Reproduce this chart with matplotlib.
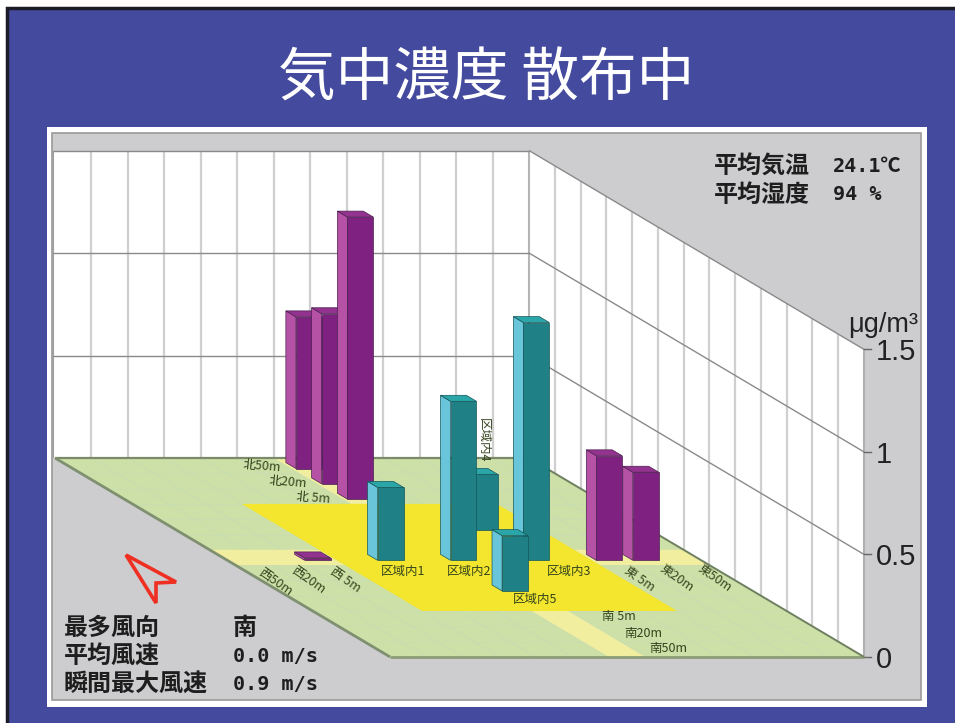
import matplotlib
matplotlib.use("Agg")
import matplotlib.pyplot as plt
from matplotlib.patches import Polygon, Rectangle

plt.rcParams["font.family"] = ["Noto Sans CJK JP", "DejaVu Sans"]

# values, in ug/m3, zero where no bar shows
BAR_NAMES = ["北50m", "北20m", "北 5m", "区域内4", "西50m", "西20m", "西 5m", "区域内1", "区域内2", "区域内3",
             "東 5m", "東20m", "東50m", "区域内5", "南 5m", "南20m", "南50m"]
BAR_VALUES = [0.74, 0.83, 1.376, 0.27, 0, 0, 0.012, 0.356, 0.776, 1.16, 0.51, 0.43, 0, 0.27, 0, 0, 0]
BAR_GROUPS = ["air", "air", "air", "area", "air", "air", "air", "area", "area", "area", "air", "air", "air", "area", "air", "air", "air"]

Z_TICKS = [0, 0.5, 1, 1.5]
Z_TICK_LABELS = ["0", "0.5", "1", "1.5"]
UNIT = "μg/m³"
TITLE = "気中濃度 散布中"
WEATHER_TOP = [("平均気温", "24.1℃"), ("平均湿度", "94 %")]
WEATHER_BOTTOM = [("最多風向", "南"), ("平均風速", "0.0 m/s"), ("瞬間最大風速", "0.9 m/s")]

# floor cell of every site, (column, row)
CELLS = {"北50m": (6, 0), "北20m": (6, 1), "北 5m": (6, 2), "区域内4": (8, 4), "西50m": (0, 6), "西20m": (1, 6), "西 5m": (2, 6),
         "区域内1": (4, 6), "区域内2": (6, 6), "区域内3": (8, 6), "東 5m": (10, 6), "東20m": (11, 6), "東50m": (12, 6),
         "区域内5": (6, 8), "南 5m": (6, 10), "南20m": (6, 11), "南50m": (6, 12)}
LABEL_OFFSETS = {"北50m": (-47, -3, -5), "北20m": (-47, -2, -5), "北 5m": (-48, -1, -5), "区域内4": (-2, -90, -90),
                 "西50m": (30, 22, -35), "西20m": (27, 20, -35), "西 5m": (27, 19, -35),
                 "区域内1": (12, 11, 0), "区域内2": (5, 11, 0), "区域内3": (32, 11, 0),
                 "東 5m": (30, 18, -35), "東20m": (30, 18, -35), "東50m": (32, 18, -35),
                 "区域内5": (20, 8, 0), "南 5m": (52, -5, 0), "南20m": (50, -4, 0), "南50m": (50, -4, 0)}

COLORS = {"air": ("#7f2180", "#b652a6", "#94338f"), "area": ("#1f8186", "#69c6da", "#2ba6a8")}
BLUE, GREY, FLOOR, YELLOW, PALE = "#444a9e", "#cdcdcf", "#cde0a8", "#f4e62e", "#f2eea0"

# oblique projection of the chart: one cell across, one cell deep, one unit up, in pixels
X0, Y0 = 55, 458
CELL_W, DEPTH_DX, DEPTH_DY, Z_PX = 36.46, 25.77, 15.3, 205
N = 13


def project(col, row, z=0):
    return X0 + col * CELL_W + row * DEPTH_DX, Y0 + row * DEPTH_DY - z * Z_PX


def quad(ax, pts, color, zorder=1, **kw):
    ax.add_patch(Polygon([project(*p) for p in pts], closed=True, facecolor=color, edgecolor=kw.pop("edgecolor", "none"), zorder=zorder, **kw))


def line(ax, a, b, color, lw, zorder=2):
    (x1, y1), (x2, y2) = project(*a), project(*b)
    ax.plot([x1, x2], [y1, y2], color=color, lw=lw, zorder=zorder, solid_capstyle="butt")


def draw_bar(ax, col, row, value, group, zorder):
    front, side, top = COLORS[group]
    c1, c2, r1, r2 = col + 0.12, col + 0.83, row + 0.3, row + 0.69
    edge = dict(edgecolor="#4a2050" if group == "air" else "#14555a", linewidth=0.5)
    quad(ax, [(c1, r1, 0), (c1, r2, 0), (c1, r2, value), (c1, r1, value)], side, zorder, **edge)
    quad(ax, [(c1, r2, 0), (c2, r2, 0), (c2, r2, value), (c1, r2, value)], front, zorder, **edge)
    quad(ax, [(c1, r1, value), (c2, r1, value), (c2, r2, value), (c1, r2, value)], top, zorder, **edge)


def readout(x, y, text, color="#1e1e1e"):
    # half-width mono for the numbers, gothic bold for kanji
    if text.isascii() or "℃" in text:
        ax.text(x, y, text, family=["DejaVu Sans Mono", "Noto Sans CJK JP"], fontsize=14.5, fontweight="bold", color=color, va="center", zorder=5)
    else:
        ax.text(x, y, text, fontsize=17.3, fontweight="bold", color=color, va="center", zorder=5)


fig = plt.figure(figsize=(9.55, 7.23), dpi=100, facecolor="white")
ax = fig.add_axes([0, 0, 1, 1])
ax.set_xlim(0, 955)
ax.set_ylim(723, 0)
ax.axis("off")

# slide background and chart frame
ax.add_patch(Rectangle((7, 8), 960, 730, facecolor=BLUE, edgecolor="#1c1c28", lw=2.5, zorder=0))
ax.add_patch(Rectangle((47, 127), 880, 580, facecolor="white", edgecolor="none", zorder=0.1))
ax.add_patch(Rectangle((52, 133), 869, 567, facecolor=GREY, edgecolor="#9a9a9a", lw=1.2, zorder=0.2))
ax.text(486, 79, TITLE, color="white", fontsize=41.5, ha="center", va="center", zorder=5)

# walls and their grid
top = Z_TICKS[-1]
quad(ax, [(-0.05, 0, 0), (N, 0, 0), (N, 0, top), (-0.05, 0, top)], "white", 0.5)
quad(ax, [(N, 0, 0), (N, N, 0), (N, N, top), (N, 0, top)], "white", 0.5)
for i in range(1, N):
    line(ax, (i, 0, 0), (i, 0, top), "#cfcfcf", 1.6, 0.6)
    line(ax, (N, i, 0), (N, i, top), "#cfcfcf", 1.6, 0.6)
line(ax, (N, 0, 0), (N, 0, top), "#b5b5b5", 1.5, 0.6)
line(ax, (-0.05, 0, 0), (-0.05, 0, top), "#a0a0a0", 1.5, 0.6)
line(ax, (N, N, 0), (N, N, top), "#b0b0b0", 1.5, 0.6)
for z in Z_TICKS[1:]:
    line(ax, (-0.05, 0, z), (N, 0, z), "#8a8a8a", 1, 0.7)
    line(ax, (N, 0, z), (N, N, z), "#8a8a8a", 1, 0.7)
for z, label in zip(Z_TICKS, Z_TICK_LABELS):
    xr, yr = project(N, N, z)
    ax.plot([xr, xr + 7], [yr, yr], color="#666666", lw=1, zorder=0.7)
    ax.text(xr + 12, yr + 3, label, family="Liberation Sans", fontsize=21, color="#222222", ha="left", va="center", zorder=5)
ax.text(883, 325, UNIT, family=["Liberation Sans", "DejaVu Sans"], fontsize=19.5, color="#222222", ha="center", va="center", zorder=5)

# floor
quad(ax, [(0, 0), (N, 0), (N, N), (0, N)], FLOOR, 1)
for i in range(1, N):
    line(ax, (i, 0), (i, N), "#c6dcb4", 0.5, 1.05)
    line(ax, (0, i), (N, i), "#c6dcb4", 0.5, 1.05)
quad(ax, [(0, 6), (3, 6), (3, 7), (0, 7)], PALE, 1.1)
quad(ax, [(10, 6), (N, 6), (N, 7), (10, 7)], PALE, 1.1)
quad(ax, [(6, 0), (7, 0), (7, 3), (6, 3)], PALE, 1.1)
quad(ax, [(6, 10), (7, 10), (7, N), (6, N)], PALE, 1.1)
quad(ax, [(3, 3), (10, 3), (10, 10), (3, 10)], YELLOW, 1.1)
line(ax, (0, 0), (N, 0), "#7b8a68", 1.6, 1.3)
line(ax, (0, 0), (0, N), "#7f9070", 2, 1.3)
line(ax, (0, N), (N, N), "#8a9c78", 2, 1.3)
line(ax, (N, 0), (N, N), "#6f8060", 1.4, 1.3)

# bars, back to front so nearer ones cover farther ones
order = sorted(range(len(BAR_NAMES)), key=lambda i: (CELLS[BAR_NAMES[i]][1], CELLS[BAR_NAMES[i]][0]))
for n, i in enumerate(order):
    col, row = CELLS[BAR_NAMES[i]]
    if BAR_VALUES[i] > 0:
        draw_bar(ax, col, row, BAR_VALUES[i], BAR_GROUPS[i], 3 + n * 0.01)

# site names sit just in front of the cell
for name in BAR_NAMES:
    col, row = CELLS[name]
    dx, dy, rot = LABEL_OFFSETS[name]
    x, y = project(col + 0.48, row + 0.7)
    ax.text(x + dx, y + dy, name, fontsize=9, color="#33441c", ha="center", va="center", rotation=rot, rotation_mode="anchor", zorder=2.5)

# wind arrow
ax.add_patch(Polygon([(126, 555), (176, 582), (156, 583), (156, 603)], closed=True, fill=False, edgecolor="#ee2f22", lw=2.6, zorder=4))

# weather read-outs
for (name, value), y in zip(WEATHER_TOP, [167, 195]):
    readout(714, y, name)
    readout(833, y, value)
for (name, value), y in zip(WEATHER_BOTTOM, [628, 656, 684]):
    readout(64, y, name)
    readout(233, y, value)

fig.savefig("out.png", dpi=100)
